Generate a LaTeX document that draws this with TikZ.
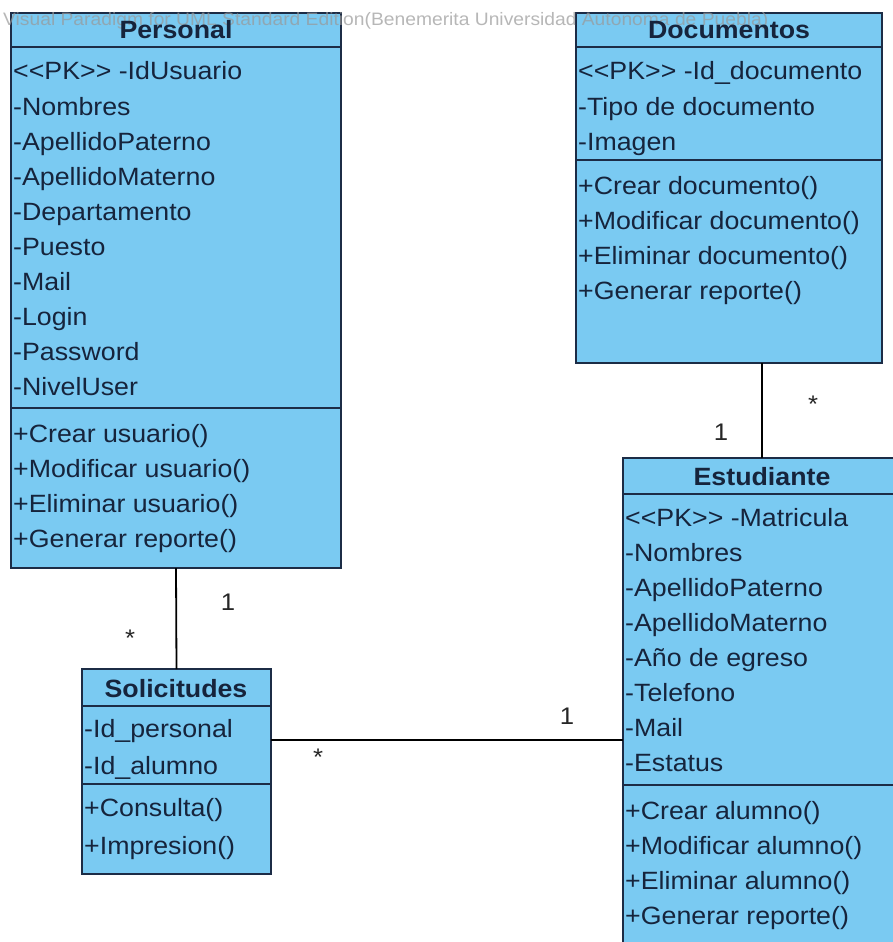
\documentclass[tikz,border=0pt]{standalone}
\usepackage{fontspec}
\setmainfont{Liberation Sans}[Ligatures=TeXOff, FakeStretch=1.07]
\definecolor{clsfill}{RGB}{122,202,242}
\definecolor{clsline}{RGB}{28,44,70}
\definecolor{clstext}{RGB}{22,36,60}
\begin{document}
\begin{tikzpicture}[x=1pt,y=-1pt,
 cls/.style={draw=clsline, line width=2pt, fill=clsfill, anchor=north west, inner sep=0, outer sep=0},
 row/.style={anchor=base west, inner sep=0, font=\fontsize{25}{30}\selectfont, text=clstext},
 ttl/.style={anchor=base, inner sep=0, font=\fontsize{25}{30}\selectfont\bfseries, text=clstext},
 sep/.style={draw=clsline, line width=2pt},
 assoc/.style={draw=black, line width=1.8pt},
 mult/.style={inner sep=0, font=\fontsize{24}{28}\selectfont, text=black!85},
 wm/.style={anchor=base west, inner sep=0, font=\fontsize{18}{20}\selectfont, text=black!40, opacity=0.7}]
\useasboundingbox (0,0) rectangle (893,942);
\fill[white] (0,0) rectangle (893,942);
\clip (0,0) rectangle (893,942);
% boxes
\node[cls, minimum width=330pt, minimum height=555pt] (personal) at (11,13) {};
\node[cls, minimum width=306pt, minimum height=350pt] (docs) at (576,13) {};
\node[cls, minimum width=278pt, minimum height=500pt] (estud) at (623,458) {};
\node[cls, minimum width=189pt, minimum height=205pt] (solic) at (82,669) {};
% compartments
\draw[sep] (personal.west |- 0,47) -- (personal.east |- 0,47);
\draw[sep] (personal.west |- 0,408) -- (personal.east |- 0,408);
\draw[sep] (docs.west |- 0,47) -- (docs.east |- 0,47);
\draw[sep] (docs.west |- 0,160) -- (docs.east |- 0,160);
\draw[sep] (estud.west |- 0,494) -- (estud.east |- 0,494);
\draw[sep] (estud.west |- 0,785) -- (estud.east |- 0,785);
\draw[sep] (solic.west |- 0,706) -- (solic.east |- 0,706);
\draw[sep] (solic.west |- 0,784) -- (solic.east |- 0,784);
% watermark
\node[wm] (wmark) at (3,26) {Visual Paradigm for UML Standard Edition(Benemerita Universidad Autonoma de Puebla)};
% titles
\node[ttl] (tpersonal) at (176,39) {Personal};
\node[ttl] (tdocs) at (729,39) {Documentos};
\node[ttl] (testud) at (762,485) {Estudiante};
\node[ttl] (tsolic) at (176,697) {Solicitudes};
% Personal rows
\foreach \t [count=\i] in {<<PK>> -IdUsuario,-Nombres,-ApellidoPaterno,-ApellidoMaterno,-Departamento,-Puesto,-Mail,-Login,-Password,-NivelUser}
  \node[row] (pa\i) at (13,{80+35*(\i-1)}) {\t};
\foreach \t [count=\i] in {+Crear usuario(),+Modificar usuario(),+Eliminar usuario(),+Generar reporte()}
  \node[row] (pm\i) at (13,{442+35*(\i-1)}) {\t};
% Documentos rows
\foreach \t [count=\i] in {<<PK>> -Id\_documento,-Tipo de documento,-Imagen}
  \node[row] (da\i) at (578,{80+35*(\i-1)}) {\t};
\foreach \t [count=\i] in {+Crear documento(),+Modificar documento(),+Eliminar documento(),+Generar reporte()}
  \node[row] (dm\i) at (578,{194+35*(\i-1)}) {\t};
% Estudiante rows
\foreach \t [count=\i] in {<<PK>> -Matricula,-Nombres,-ApellidoPaterno,-ApellidoMaterno,-Año de egreso,-Telefono,-Mail,-Estatus}
  \node[row] (ea\i) at (625,{526+35.1*(\i-1)}) {\t};
\foreach \t [count=\i] in {+Crear alumno(),+Modificar alumno(),+Eliminar alumno(),+Generar reporte()}
  \node[row] (em\i) at (625,{819+35*(\i-1)}) {\t};
% Solicitudes rows
\node[row] (sa1) at (84,737) {-Id\_personal};
\node[row] (sa2) at (84,774) {-Id\_alumno};
\node[row] (sm1) at (84,816) {+Consulta()};
\node[row] (sm2) at (84,854) {+Impresion()};
% associations
\draw[assoc] (personal.south) -- (solic.north);
\draw[assoc] (docs.south -| estud.north) -- (estud.north);
\draw[assoc] (solic.east |- 0,740) -- (estud.west |- 0,740);
% multiplicities
\node[mult] (m1) at (228,602) {1};
\node[mult] (m2) at (130,638) {*};
\node[mult] (m3) at (813,404) {*};
\node[mult] (m4) at (721,432) {1};
\node[mult] (m5) at (318,757) {*};
\node[mult] (m6) at (567,716) {1};
\end{tikzpicture}
\end{document}
